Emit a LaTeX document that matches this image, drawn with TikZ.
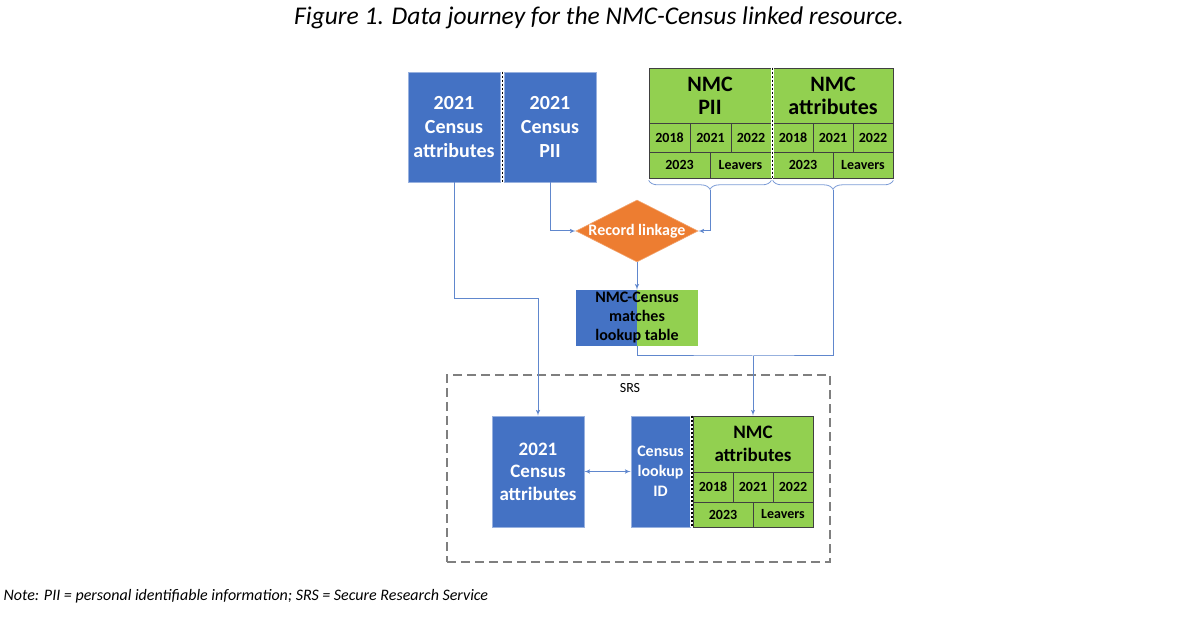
\documentclass[tikz,border=0pt]{standalone}
\usepackage{fontspec}
\setmainfont{Carlito}
\usetikzlibrary{shapes,arrows,decorations.pathreplacing}
\definecolor{censusblue}{HTML}{4472C4}
\definecolor{nmcgreen}{HTML}{92D050}
\definecolor{linkorange}{HTML}{ED7D31}
\definecolor{srsgrey}{HTML}{7F7F7F}
\newcommand{\fsz}[2]{\fontsize{#1}{#2}\selectfont}
\tikzstyle{census} = [rectangle, draw=censusblue!55!white, fill=censusblue, text=white,
align=center, inner sep=0pt, line width=0.6]
\tikzstyle{nmchead} = [rectangle, draw=black!75, fill=nmcgreen, align=center,
inner sep=0pt, line width=0.7]
\tikzstyle{cell} = [rectangle, draw=black!75, fill=nmcgreen, inner sep=0pt, line width=0.7,
font=\bfseries\fsz{14}{16}]
\tikzstyle{divider} = [draw=black, line width=1.4, dash pattern=on 2.5pt off 1.5pt,
preaction={draw=white, line width=3, solid}]
\tikzstyle{line} = [draw=censusblue!85, line width=1, -latex']
\tikzstyle{brace} = [draw=censusblue!70, line width=0.8, decorate, decoration={brace, amplitude=9}]

\begin{document}
\begin{tikzpicture}[x=1pt, y=-1pt]
		\useasboundingbox (0,0) rectangle (1200,628);
		\node [font=\itshape\fsz{25.5}{28}] (title) at (599,18) {Figure 1. Data journey for the NMC-Census linked resource.};
		
		% top row
		\node [census, minimum width=92, minimum height=110, font=\bfseries\fsz{20}{24}] (cattr) at (454,127) {2021\\Census\\attributes};
		\node [census, minimum width=92, minimum height=110, font=\bfseries\fsz{20}{24}] (cpii) at (550,127) {2021\\Census\\PII};
		\path [divider] ([xshift=2]cattr.north east) -- ([xshift=2]cattr.south east);
		
		\node [nmchead, minimum width=122, minimum height=55, font=\bfseries\fsz{22}{23}] (piihead) at (710,95.5) {NMC\\PII};
		\node [cell, minimum width=41, minimum height=29] (pii18) at (669.5,137.5) {2018};
		\node [cell, minimum width=41, minimum height=29] (pii21) at (710.5,137.5) {2021};
		\node [cell, minimum width=40, minimum height=29] (pii22) at (751,137.5) {2022};
		\node [cell, minimum width=61, minimum height=26] (pii23) at (679.5,165) {2023};
		\node [cell, minimum width=61, minimum height=26] (piilv) at (740.5,165) {Leavers};
		
		\node [nmchead, minimum width=120, minimum height=55, font=\bfseries\fsz{22}{23}] (attrhead) at (833,95.5) {NMC\\attributes};
		\node [cell, minimum width=40, minimum height=29] (attr18) at (793,137.5) {2018};
		\node [cell, minimum width=40, minimum height=29] (attr21) at (833,137.5) {2021};
		\node [cell, minimum width=40, minimum height=29] (attr22) at (873,137.5) {2022};
		\node [cell, minimum width=60, minimum height=26] (attr23) at (803,165) {2023};
		\node [cell, minimum width=60, minimum height=26] (attrlv) at (863,165) {Leavers};
		\path [divider] ([xshift=1]piihead.north east) -- ([xshift=1]piilv.south east);
		
		\path [brace] ([yshift=-2]piilv.south east) -- ([yshift=-2]pii23.south west);
		\path [brace] ([yshift=-2]attrlv.south east) -- ([yshift=-2]attr23.south west);
		\coordinate (piitip) at (710,190);
		\coordinate (attrtip) at (833,190);
		
		% linkage
		\node [diamond, fill=linkorange, draw=linkorange!70!white, line width=0.6, inner sep=0pt,
		minimum width=122, minimum height=62,
		label={[text=white, font=\bfseries\fsz{16}{18}]center:Record linkage}] (link) at (637,231) {};
		\node [rectangle, inner sep=0pt, minimum width=122, minimum height=56, fill=nmcgreen,
		path picture={\fill[censusblue] (path picture bounding box.south west) rectangle (path picture bounding box.north);},
		align=center, font=\bfseries\fsz{16}{19}] (match) at (637,318) {NMC-Census\\matches\\lookup table};
		
		% SRS
		\node [rectangle, draw=srsgrey, line width=1.3, dash pattern=on 9pt off 5pt,
		minimum width=383, minimum height=187] (srs) at (638.5,468.5) {};
		\node [font=\fsz{14}{16}] (srslabel) at (630,388) {SRS};
		\node [census, minimum width=92, minimum height=111, font=\bfseries\fsz{19}{22.5}] (srscattr) at (538,471.5) {2021\\Census\\attributes};
		\node [census, minimum width=59, minimum height=111, font=\bfseries\fsz{16}{20}] (lookup) at (660.5,471.5) {Census\\lookup\\ID};
		\node [nmchead, minimum width=120, minimum height=56, font=\bfseries\fsz{19}{23}] (srshead) at (753,444) {NMC\\attributes};
		\node [cell, minimum width=40, minimum height=30] (srs18) at (713,487) {2018};
		\node [cell, minimum width=40, minimum height=30] (srs21) at (753,487) {2021};
		\node [cell, minimum width=40, minimum height=30] (srs22) at (793,487) {2022};
		\node [cell, minimum width=60, minimum height=25] (srs23) at (723,514.5) {2023};
		\node [cell, minimum width=60, minimum height=25] (srslv) at (783,514.5) {Leavers};
		\path [divider] ([xshift=1.5]lookup.north east) -- ([xshift=1.5]lookup.south east);
		\coordinate (join) at (753,356);
		
		\path [line] (cattr.south) -- ++(0,116) -| (srscattr.north);
		\path [line] (cpii.south) |- (link.west);
		\path [line] (piitip) |- (link.east);
		\path [line] (link.south) -- (match.north);
		\path [draw=censusblue!85, line width=1] (match.south) |- (join) -| (attrtip);
		\path [line] (join) -- (srshead.north);
		\path [line, latex'-latex'] (srscattr.east) -- (lookup.west);
		
		\node [anchor=west, font=\itshape\fsz{16}{19}] (note) at (0,596) {Note: PII = personal identifiable information; SRS = Secure Research Service};
\end{tikzpicture}
\end{document}
